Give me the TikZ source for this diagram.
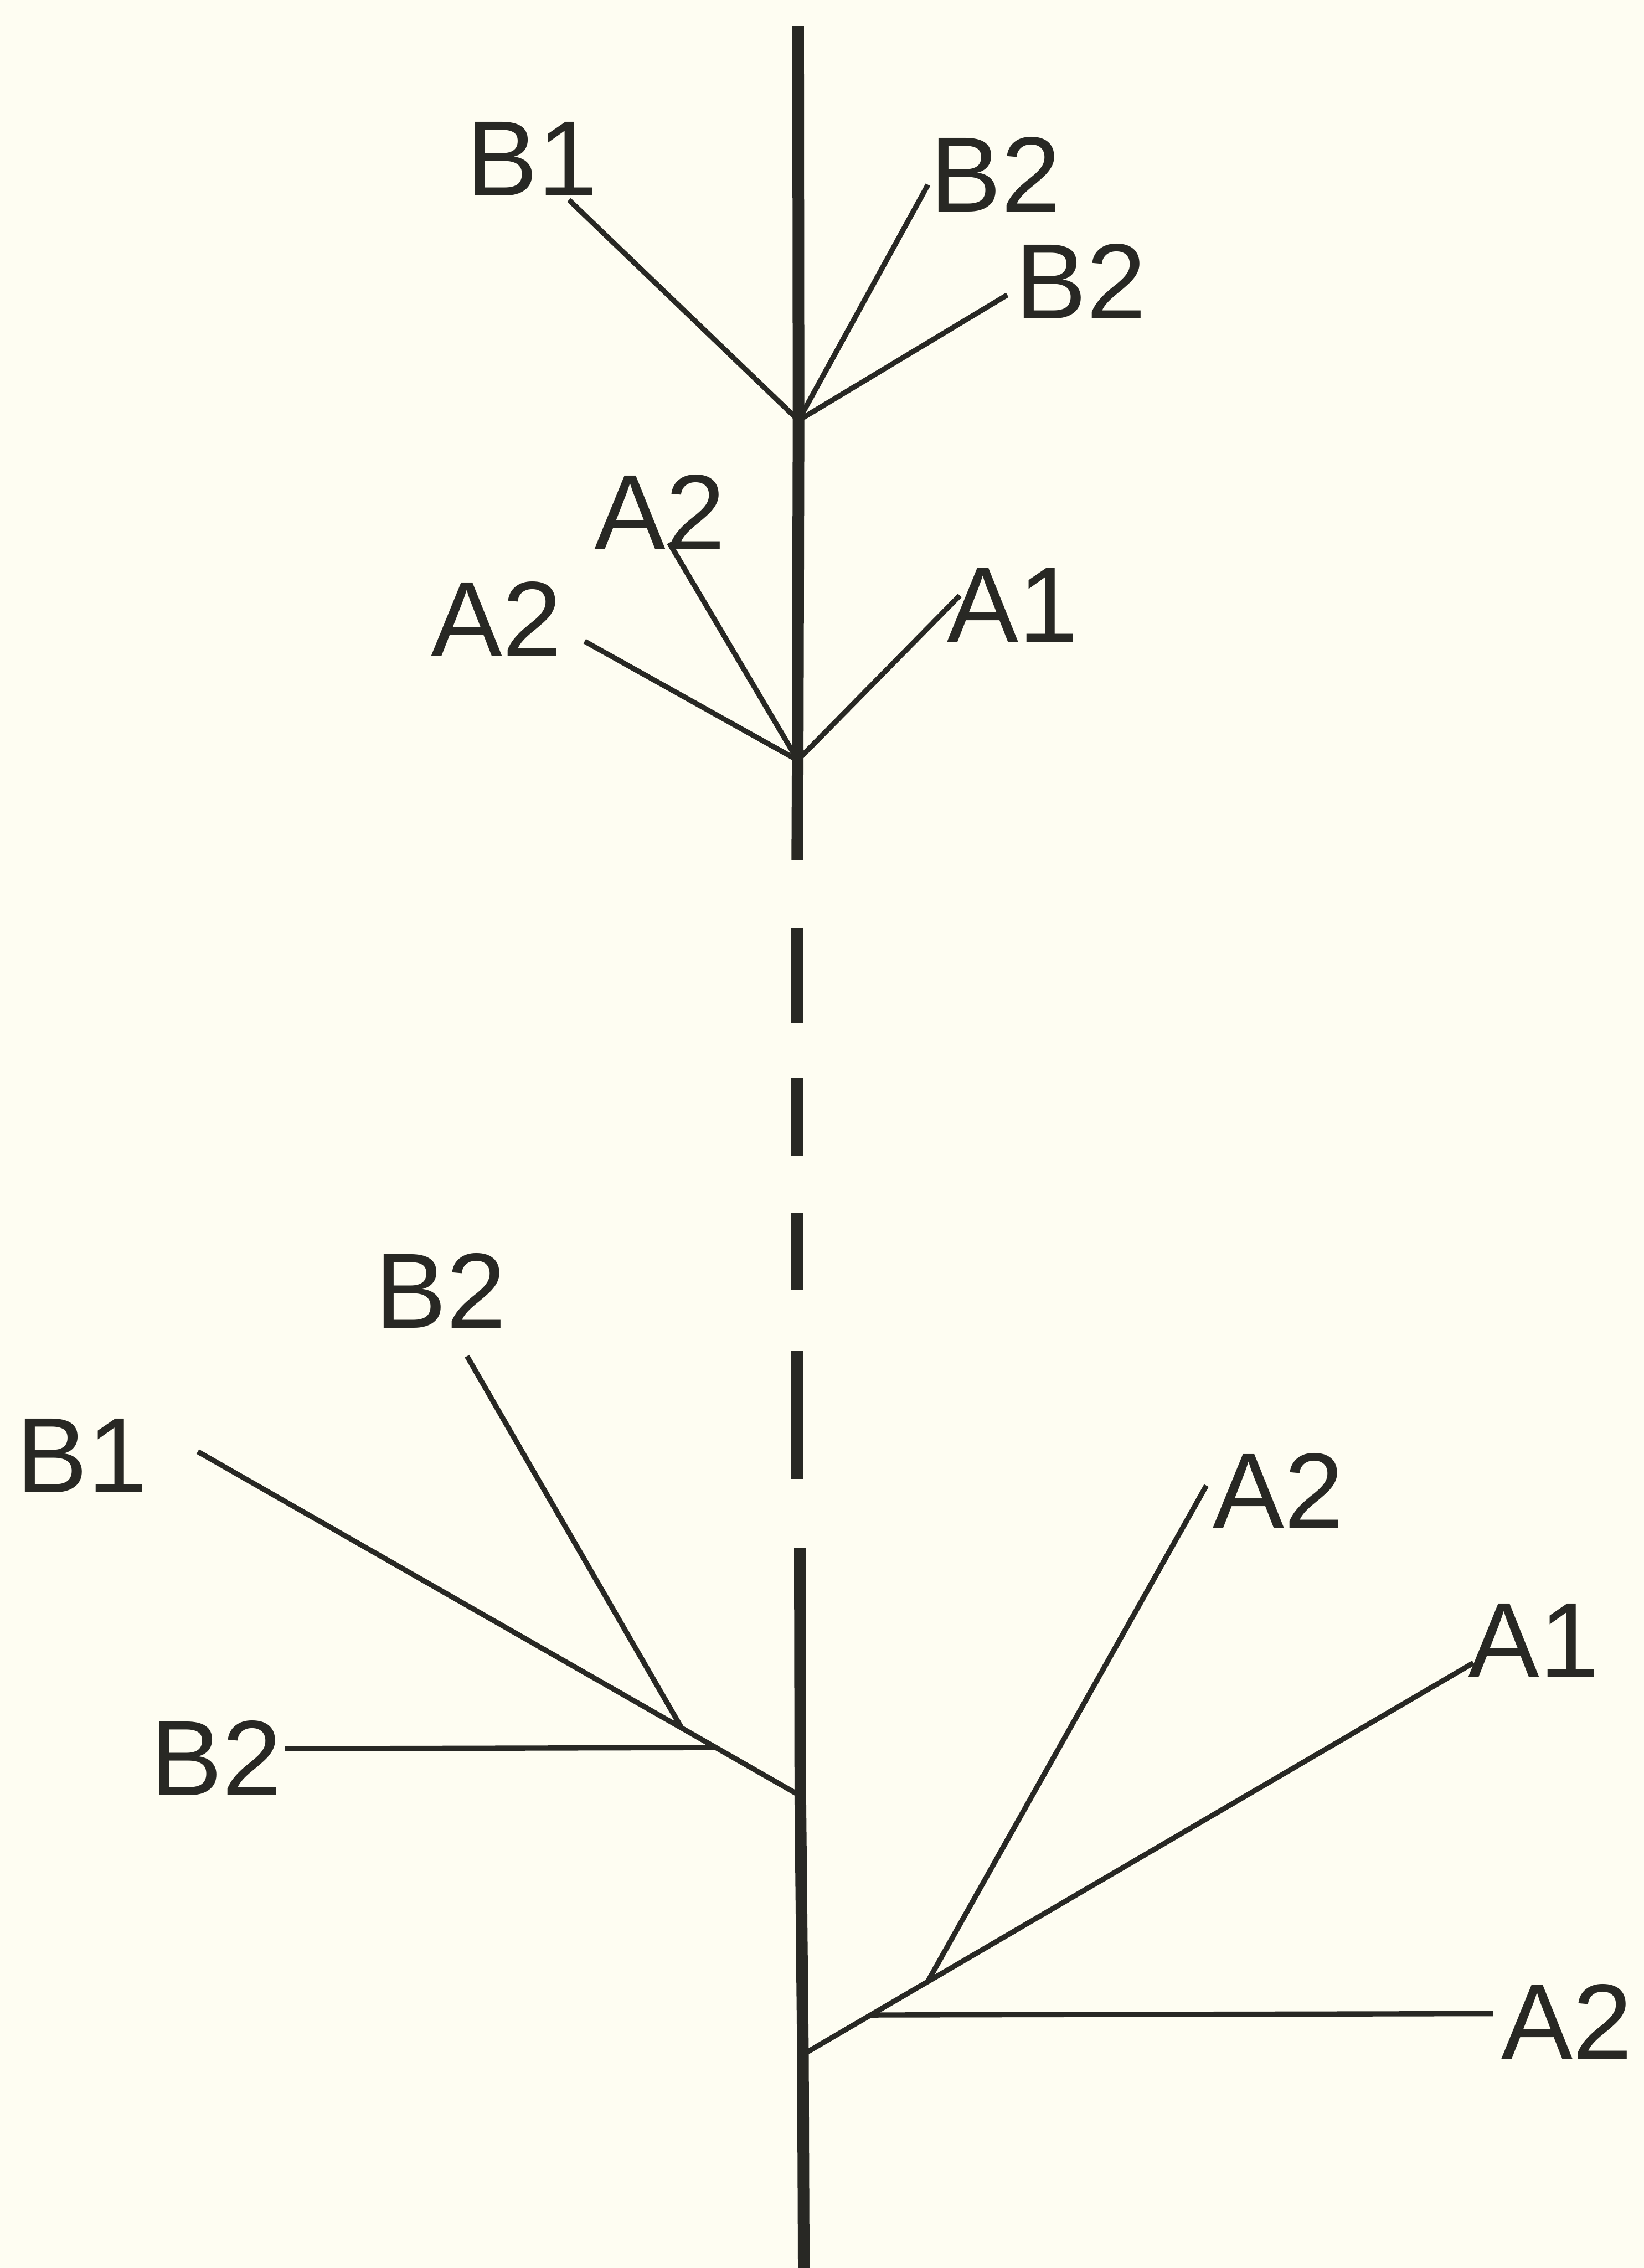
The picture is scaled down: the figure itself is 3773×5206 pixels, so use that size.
\documentclass[tikz,border=0pt]{standalone}
\usepackage{fontspec}
\setmainfont{Liberation Sans}
\usepackage{tikz}
\usetikzlibrary{calc}

\definecolor{paper}{RGB}{254,253,242}
\definecolor{ink}{RGB}{40,40,36}

\tikzset{
	stem/.style={draw=ink, line width=3.8pt},
	twig/.style={draw=ink, line width=1.7pt},
	tag/.style={text=ink, inner sep=0pt, font=\fontsize{35}{40}\selectfont},
}

\begin{document}
\begin{tikzpicture}[x=0.005cm, y=-0.005cm]
	\fill[paper] (0,0) rectangle (3773,5206);
	\useasboundingbox (0,0) rectangle (3773,5206);
	% Stem:
	\coordinate (top) at (1832,60);
	\coordinate (jBu) at (1833,965);
	\coordinate (jAu) at (1831,1745);
	\coordinate (cut) at (1830,1975);
	\coordinate (join) at (1836,3553);
	\coordinate (jBl) at (1837,4122);
	\coordinate (jAl) at (1843,4716);
	\coordinate (bottom) at (1845,5230);
	\draw[stem] (top) -- (jBu) -- (jAu) -- (cut);
	\foreach \ya/\yb in {2130/2348, 2474/2652, 2784/2962, 3100/3395}
		\draw[stem] (1829,\ya) -- (1829,\yb);
	\draw[stem] (join) -- (jBl) -- (jAl) -- (bottom);
	% Labels:
	\node[tag] (b1u) at (1221,365) {B1};
	\node[tag] (b2u) at (2285,400) {B2};
	\node[tag] (b2v) at (2481,645) {B2};
	\node[tag] (a2l) at (1140,1421) {A2};
	\node[tag] (a2u) at (1515,1175) {A2};
	\node[tag] (a1u) at (2324,1389) {A1};
	\node[tag] (b2t) at (1012,2962) {B2};
	\node[tag] (b1l) at (188,3341) {B1};
	\node[tag] (b2h) at (497,4035) {B2};
	\node[tag] (a2t) at (2934,3422) {A2};
	\node[tag] (a1r) at (3520,3766) {A1};
	\node[tag, anchor=west] (a2h) at (3445,4640) {A2};
	% Branch ends:
	\coordinate (eB1u) at (1306,459);
	\coordinate (eB2u) at (2130,424);
	\coordinate (eB2v) at (2312,677);
	\coordinate (eA2l) at (1342,1472);
	\coordinate (eA2u) at (1536,1246);
	\coordinate (eA1u) at (2203,1367);
	\coordinate (eB1l) at (454,3332);
	\coordinate (eB2t) at (1072,3113);
	\coordinate (eB2h) at (654,4014);
	\coordinate (eA2t) at (2769,3410);
	\coordinate (eA1r) at (3382,3817);
	\coordinate (eA2h) at (3427,4622);
	\coordinate (kB) at ($(jBl)!0.197!(eB1l)$);
	\coordinate (kBh) at ($(jBl)!0.14!(eB1l)$);
	\coordinate (kA) at ($(jAl)!0.186!(eA1r)$);
	\coordinate (kAh) at ($(jAl)!0.101!(eA1r)$);
	% Branches:
	\draw[twig] (jBu) -- (eB1u);
	\draw[twig] (jBu) -- (eB2u);
	\draw[twig] (jBu) -- (eB2v);
	\draw[twig] (jAu) -- (eA2l);
	\draw[twig] (jAu) -- (eA2u);
	\draw[twig] (jAu) -- (eA1u);
	\draw[twig] (jBl) -- (eB1l);
	\draw[twig] (kB) -- (eB2t);
	\draw[twig] (kBh) -- (eB2h);
	\draw[twig] (jAl) -- (eA1r);
	\draw[twig] (kA) -- (eA2t);
	\draw[twig] (kAh) -- (eA2h);
\end{tikzpicture}
\end{document}
